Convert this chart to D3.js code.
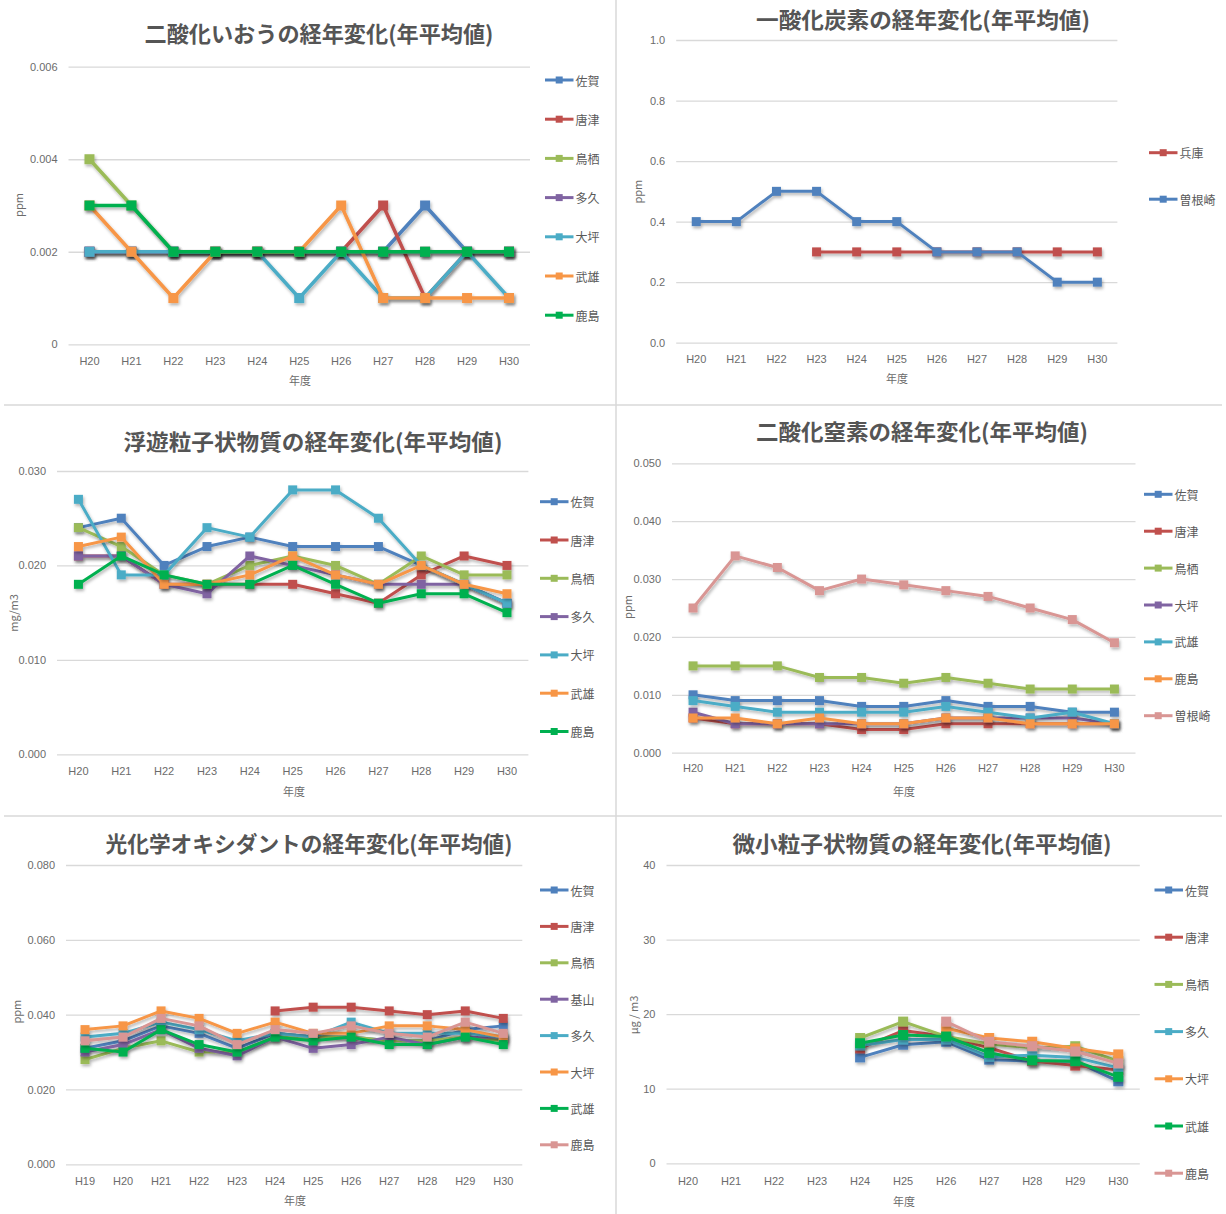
<!DOCTYPE html>
<html>
<head>
<meta charset="utf-8">
<title>大気汚染物質の経年変化(年平均値)</title>
<script src="https://d3js.org/d3.v7.min.js"></script>
<style>
    body { margin: 0; background: #fff; }
    svg text { font-family: "Liberation Sans", "Noto Sans CJK JP", sans-serif; }
    .title { font-family: "Noto Sans CJK JP", sans-serif; font-size: 22px; font-weight: bold; fill: #555; }
    .tick text { font-size: 11px; fill: #6b6b6b; }
    .tick line { stroke: #d9d9d9; stroke-width: 1.3; }
    .axis-title { font-family: "Noto Sans CJK JP", sans-serif; font-size: 11px; fill: #6b6b6b; }
    .legend text { font-family: "Noto Sans CJK JP", sans-serif; font-size: 12px; fill: #595959; }
</style>
</head>
<body>
<svg id="chart" width="1226" height="1214"></svg>
<script>
// ---- data ----
var yearsH20 = ["H20", "H21", "H22", "H23", "H24", "H25", "H26", "H27", "H28", "H29", "H30"];
var yearsH19 = ["H19", "H20", "H21", "H22", "H23", "H24", "H25", "H26", "H27", "H28", "H29", "H30"];

// 二酸化いおう (ppm)
var so2Sites = ["佐賀", "唐津", "鳥栖", "多久", "大坪", "武雄", "鹿島"];
var so2Values = [
    [0.002, 0.002, 0.002, 0.002, 0.002, 0.002, 0.002, 0.002, 0.003, 0.002, 0.002],
    [0.002, 0.002, 0.002, 0.002, 0.002, 0.002, 0.002, 0.003, 0.001, 0.002, 0.002],
    [0.004, 0.003, 0.002, 0.002, 0.002, 0.002, 0.002, 0.002, 0.002, 0.002, 0.002],
    [0.002, 0.002, 0.002, 0.002, 0.002, 0.002, 0.002, 0.002, 0.002, 0.002, 0.002],
    [0.002, 0.002, 0.002, 0.002, 0.002, 0.001, 0.002, 0.001, 0.001, 0.002, 0.001],
    [0.003, 0.002, 0.001, 0.002, 0.002, 0.002, 0.003, 0.001, 0.001, 0.001, 0.001],
    [0.003, 0.003, 0.002, 0.002, 0.002, 0.002, 0.002, 0.002, 0.002, 0.002, 0.002]
];
var so2Ticks = [0, 0.002, 0.004, 0.006];

// 一酸化炭素 (ppm)
var coSites = ["兵庫", "曽根崎"];
var coValues = [
    [null, null, null, 0.3, 0.3, 0.3, 0.3, 0.3, 0.3, 0.3, 0.3],
    [0.4, 0.4, 0.5, 0.5, 0.4, 0.4, 0.3, 0.3, 0.3, 0.2, 0.2]
];
var coTicks = [0, 0.2, 0.4, 0.6, 0.8, 1.0];

// 浮遊粒子状物質 (mg/m3)
var spmSites = ["佐賀", "唐津", "鳥栖", "多久", "大坪", "武雄", "鹿島"];
var spmValues = [
    [0.024, 0.025, 0.020, 0.022, 0.023, 0.022, 0.022, 0.022, 0.020, 0.018, 0.016],
    [0.021, 0.021, 0.018, 0.018, 0.018, 0.018, 0.017, 0.016, 0.019, 0.021, 0.020],
    [0.024, 0.022, 0.019, 0.018, 0.020, 0.021, 0.020, 0.018, 0.021, 0.019, 0.019],
    [0.021, 0.021, 0.018, 0.017, 0.021, 0.020, 0.019, 0.018, 0.018, 0.018, 0.016],
    [0.027, 0.019, 0.019, 0.024, 0.023, 0.028, 0.028, 0.025, 0.020, 0.018, 0.016],
    [0.022, 0.023, 0.018, 0.018, 0.019, 0.021, 0.019, 0.018, 0.020, 0.018, 0.017],
    [0.018, 0.021, 0.019, 0.018, 0.018, 0.020, 0.018, 0.016, 0.017, 0.017, 0.015]
];
var spmTicks = [0, 0.010, 0.020, 0.030];

// 二酸化窒素 (ppm)
var no2Sites = ["佐賀", "唐津", "鳥栖", "大坪", "武雄", "鹿島", "曽根崎"];
var no2Values = [
    [0.010, 0.009, 0.009, 0.009, 0.008, 0.008, 0.009, 0.008, 0.008, 0.007, 0.007],
    [0.006, 0.005, 0.005, 0.005, 0.004, 0.004, 0.005, 0.005, 0.005, 0.005, 0.005],
    [0.015, 0.015, 0.015, 0.013, 0.013, 0.012, 0.013, 0.012, 0.011, 0.011, 0.011],
    [0.007, 0.005, 0.005, 0.005, 0.005, 0.005, 0.006, 0.006, 0.006, 0.006, 0.005],
    [0.009, 0.008, 0.007, 0.007, 0.007, 0.007, 0.008, 0.007, 0.006, 0.007, 0.005],
    [0.006, 0.006, 0.005, 0.006, 0.005, 0.005, 0.006, 0.006, 0.005, 0.005, 0.005],
    [0.025, 0.034, 0.032, 0.028, 0.030, 0.029, 0.028, 0.027, 0.025, 0.023, 0.019]
];
var no2Ticks = [0, 0.010, 0.020, 0.030, 0.040, 0.050];

// 光化学オキシダント (ppm)
var oxSites = ["佐賀", "唐津", "鳥栖", "基山", "多久", "大坪", "武雄", "鹿島"];
var oxValues = [
    [0.031, 0.033, 0.037, 0.035, 0.031, 0.035, 0.034, 0.034, 0.033, 0.033, 0.036, 0.037],
    [null, null, null, null, null, 0.041, 0.042, 0.042, 0.041, 0.040, 0.041, 0.039],
    [0.028, 0.031, 0.033, 0.030, 0.030, 0.034, 0.034, 0.034, 0.033, 0.033, 0.034, 0.033],
    [0.030, 0.032, 0.036, 0.031, 0.029, 0.034, 0.031, 0.032, 0.034, 0.032, 0.034, 0.034],
    [0.034, 0.035, 0.038, 0.036, 0.033, 0.035, 0.034, 0.038, 0.035, 0.035, 0.035, 0.034],
    [0.036, 0.037, 0.041, 0.039, 0.035, 0.038, 0.035, 0.035, 0.037, 0.037, 0.036, 0.034],
    [0.031, 0.030, 0.036, 0.032, 0.030, 0.034, 0.033, 0.034, 0.032, 0.032, 0.034, 0.032],
    [0.033, 0.034, 0.039, 0.037, 0.032, 0.036, 0.035, 0.037, 0.035, 0.034, 0.038, 0.035]
];
var oxTicks = [0, 0.020, 0.040, 0.060, 0.080];

// 微小粒子状物質 (μg/m3)
var pmSites = ["佐賀", "唐津", "鳥栖", "多久", "大坪", "武雄", "鹿島"];
var pmValues = [
    [null, null, null, null, 14.2, 15.9, 16.3, 13.9, 13.7, 13.7, 11.0],
    [null, null, null, null, 15.4, 17.8, 17.0, 15.5, 13.7, 13.1, 12.5],
    [null, null, null, null, 16.8, 19.0, 17.0, 16.0, 15.5, 15.7, 13.7],
    [null, null, null, null, 15.8, 16.6, 16.6, 14.3, 14.5, 14.2, 12.8],
    [null, null, null, null, null, null, 18.1, 16.8, 16.3, 15.4, 14.6],
    [null, null, null, null, 16.1, 17.2, 17.0, 14.8, 13.8, 13.7, 11.6],
    [null, null, null, null, null, null, 19.0, 16.3, 15.7, 15.0, 13.4]
];
var pmTicks = [0, 10, 20, 30, 40];

// ---- colours (Excel style) ----
var cBlue = "#4f81bd", cRed = "#c0504d", cLime = "#9bbb59", cPurple = "#8064a2",
    cAqua = "#4bacc6", cOrange = "#f79646", cGreen = "#00b050", cPink = "#d99694";

var fmt3 = function(d) { return d === 0 ? "0" : d3.format(".3f")(d); };

var panels = [
    { title: "二酸化いおうの経年変化(年平均値)", years: yearsH20, sites: so2Sites, values: so2Values, ticks: so2Ticks,
      fmt: fmt3, unit: "ppm", colors: [cBlue, cRed, cLime, cPurple, cAqua, cOrange, cGreen],
      x0: 68.5, x1: 530, yTop: 66.7, yBot: 344.3, titleX: 319, titleY: 31.7, titleW: 349,
      xTickY: 361, axisX: 300, axisY: 380, unitX: 18, unitY: 205,
      legX: 545, legY: 80, legStep: 39.2, lw: 3.5, ms: 10 },
    { title: "一酸化炭素の経年変化(年平均値)", years: yearsH20, sites: coSites, values: coValues, ticks: coTicks,
      fmt: d3.format(".1f"), unit: "ppm", colors: [cRed, cBlue],
      x0: 676.2, x1: 1117.4, yTop: 40, yBot: 342.7, titleX: 923, titleY: 18.3, titleW: 334,
      xTickY: 359.3, axisX: 897, axisY: 378.3, unitX: 637, unitY: 191.7,
      legX: 1149, legY: 152.7, legStep: 46.5, lw: 3, ms: 9 },
    { title: "浮遊粒子状物質の経年変化(年平均値)", years: yearsH20, sites: spmSites, values: spmValues, ticks: spmTicks,
      fmt: d3.format(".3f"), unit: "mg/m3", colors: [cBlue, cRed, cLime, cPurple, cAqua, cOrange, cGreen],
      x0: 57, x1: 528.4, yTop: 471, yBot: 754.3, titleX: 313, titleY: 440, titleW: 379,
      xTickY: 770.7, axisX: 294, axisY: 790.7, unitX: 13, unitY: 613,
      legX: 540, legY: 501.7, legStep: 38.3, lw: 3, ms: 9 },
    { title: "二酸化窒素の経年変化(年平均値)", years: yearsH20, sites: no2Sites, values: no2Values, ticks: no2Ticks,
      fmt: d3.format(".3f"), unit: "ppm", colors: [cBlue, cRed, cLime, cPurple, cAqua, cOrange, cPink],
      x0: 672, x1: 1135.5, yTop: 463.3, yBot: 752.7, titleX: 922, titleY: 430, titleW: 332,
      xTickY: 768.3, axisX: 904, axisY: 790.7, unitX: 627, unitY: 607,
      legX: 1144, legY: 494.3, legStep: 36.9, lw: 3, ms: 9 },
    { title: "光化学オキシダントの経年変化(年平均値)", years: yearsH19, sites: oxSites, values: oxValues, ticks: oxTicks,
      fmt: d3.format(".3f"), unit: "ppm", colors: [cBlue, cRed, cLime, cPurple, cAqua, cOrange, cGreen, cPink],
      x0: 66, x1: 522.3, yTop: 865, yBot: 1164.3, titleX: 309, titleY: 841.7, titleW: 407,
      xTickY: 1180.7, axisX: 295, axisY: 1200, unitX: 16, unitY: 1011.7,
      legX: 540, legY: 890, legStep: 36.4, lw: 3, ms: 9 },
    { title: "微小粒子状物質の経年変化(年平均値)", years: yearsH20, sites: pmSites, values: pmValues, ticks: pmTicks,
      fmt: d3.format("d"), unit: "μg / m3", colors: [cBlue, cRed, cLime, cAqua, cOrange, cGreen, cPink],
      x0: 666.5, x1: 1139.8, yTop: 865, yBot: 1163.3, titleX: 922, titleY: 841.7, titleW: 379,
      xTickY: 1180.7, axisX: 904, axisY: 1200.7, unitX: 633, unitY: 1015,
      legX: 1154.5, legY: 890, legStep: 47.2, lw: 3, ms: 10 }
];

var svg = d3.select("#chart");

var defs = svg.append("defs");
var shadow = defs.append("filter").attr("id", "shadow")
    .attr("x", "-10%").attr("y", "-10%").attr("width", "130%").attr("height", "140%");
shadow.append("feDropShadow")
    .attr("dx", 1.2).attr("dy", 2.2).attr("stdDeviation", 1.4)
    .attr("flood-color", "#000").attr("flood-opacity", 0.3);

// panel frames
svg.append("line").attr("x1", 616).attr("x2", 616).attr("y1", 0).attr("y2", 1214)
    .attr("stroke", "#d9d9d9").attr("stroke-width", 1.5);
[405, 816].forEach(function(yy) {
    svg.append("line").attr("x1", 4).attr("x2", 1222).attr("y1", yy).attr("y2", yy)
        .attr("stroke", "#d9d9d9").attr("stroke-width", 1.5);
});

panels.forEach(function(p) {
    var g = svg.append("g");

    var x = d3.scaleBand().domain(p.years).range([p.x0, p.x1]);
    var y = d3.scaleLinear()
        .domain([p.ticks[0], p.ticks[p.ticks.length - 1]])
        .range([p.yBot, p.yTop]);
    var cx = function(k) { return x(k) + x.bandwidth() / 2; };

    // gridlines + y tick labels
    var yAxis = g.append("g")
        .attr("transform", "translate(" + p.x0 + ",0)")
        .call(d3.axisLeft(y).tickValues(p.ticks).tickFormat(p.fmt)
            .tickSize(-(p.x1 - p.x0)).tickPadding(11));
    yAxis.select(".domain").remove();

    // category labels
    var xAxis = g.append("g")
        .attr("transform", "translate(0," + (p.xTickY - 4) + ")")
        .call(d3.axisBottom(x).tickSize(0).tickPadding(0));
    xAxis.select(".domain").remove();
    xAxis.selectAll("text").attr("dy", "0.35em").attr("y", 4);

    // title
    g.append("text").attr("class", "title")
        .attr("x", p.titleX).attr("y", p.titleY)
        .attr("text-anchor", "middle").attr("dominant-baseline", "central")
        .attr("textLength", p.titleW).attr("lengthAdjust", "spacingAndGlyphs")
        .text(p.title);

    // axis titles
    g.append("text").attr("class", "axis-title")
        .attr("x", p.axisX).attr("y", p.axisY)
        .attr("text-anchor", "middle").attr("dominant-baseline", "central")
        .text("年度");
    g.append("text").attr("class", "axis-title")
        .attr("transform", "translate(" + p.unitX + "," + p.unitY + ") rotate(-90)")
        .attr("text-anchor", "middle").attr("dominant-baseline", "central")
        .text(p.unit);

    // series
    var line = d3.line()
        .defined(function(d) { return d.v != null; })
        .x(function(d) { return cx(d.k); })
        .y(function(d) { return y(d.v); });

    p.values.forEach(function(vals, i) {
        var pts = vals.map(function(v, j) { return { k: p.years[j], v: v }; });
        var s = g.append("g").attr("filter", "url(#shadow)");
        s.append("path")
            .attr("d", line(pts))
            .attr("fill", "none")
            .attr("stroke", p.colors[i])
            .attr("stroke-width", p.lw)
            .attr("stroke-linejoin", "round");
        s.selectAll("rect")
            .data(pts.filter(function(d) { return d.v != null; }))
            .enter().append("rect")
            .attr("x", function(d) { return cx(d.k) - p.ms / 2; })
            .attr("y", function(d) { return y(d.v) - p.ms / 2; })
            .attr("width", p.ms).attr("height", p.ms)
            .attr("fill", p.colors[i]);
    });

    // legend
    var legend = g.selectAll(".legend")
        .data(p.sites)
        .enter().append("g")
        .attr("class", "legend")
        .attr("transform", function(d, i) {
            return "translate(" + p.legX + "," + (p.legY + i * p.legStep) + ")";
        });
    legend.append("line")
        .attr("x1", 0).attr("x2", 28.5).attr("y1", 0).attr("y2", 0)
        .attr("stroke", function(d, i) { return p.colors[i]; })
        .attr("stroke-width", 3);
    legend.append("rect")
        .attr("x", 10.7).attr("y", -3.5).attr("width", 7).attr("height", 7)
        .attr("fill", function(d, i) { return p.colors[i]; });
    legend.append("text")
        .attr("x", 30.5).attr("y", 0)
        .attr("dominant-baseline", "central")
        .text(function(d) { return d; });
});
</script>
</body>
</html>
